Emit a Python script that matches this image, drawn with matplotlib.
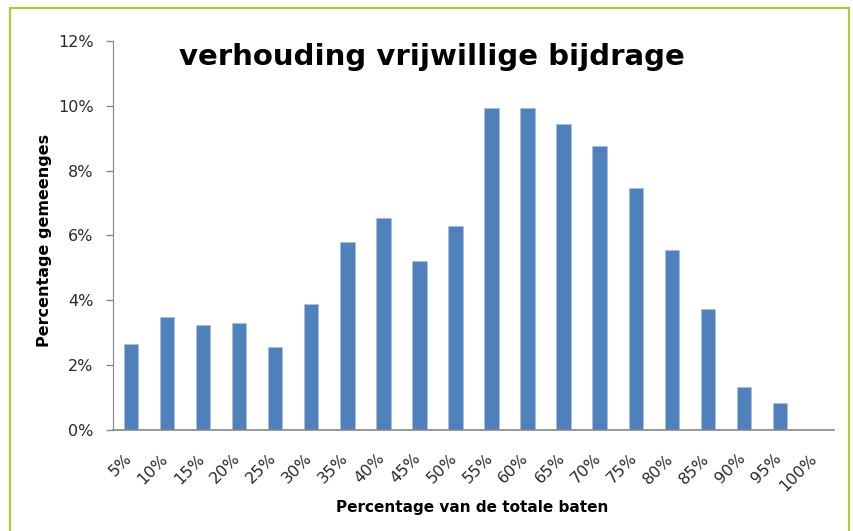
import matplotlib
matplotlib.use("Agg")
import matplotlib.pyplot as plt
import matplotlib.transforms as mtransforms
from matplotlib.patches import Rectangle
import numpy as np

categories = ["5%", "10%", "15%", "20%", "25%", "30%", "35%", "40%", "45%", "50%",
              "55%", "60%", "65%", "70%", "75%", "80%", "85%", "90%", "95%", "100%"]
aandeel = [2.65, 3.48, 3.23, 3.31, 2.57, 3.89, 5.79, 6.53, 5.22, 6.29,
           9.94, 9.94, 9.44, 8.77, 7.46, 5.55, 3.73, 1.33, 0.82, 0.0]
y_ticks = [0, 2, 4, 6, 8, 10, 12]
y_labels = ["0%", "2%", "4%", "6%", "8%", "10%", "12%"]

plt.rcParams['font.family'] = ['DejaVu Sans']

fig = plt.figure(figsize=(8.54, 5.31), dpi=100)
ax = fig.add_axes([0.1323, 0.1902, 0.8443, 0.7326])

x = np.arange(len(categories))
ax.bar(x, aandeel, width=0.4, color="#4F81BD", edgecolor="#A7C0DE", linewidth=0.6)

ax.set_xlim(-0.5, len(categories) - 0.5)
ax.set_ylim(0, 12)
ax.set_yticks(y_ticks)
ax.set_yticklabels(y_labels, fontsize=11.5, color="#2a2a2a")
ax.set_xticks(x)
ax.set_xticklabels(categories, rotation=45, ha="right", fontsize=11.5, color="#2a2a2a")
ax.tick_params(axis="x", length=0, pad=15)
ax.tick_params(axis="y", length=5, width=1, color="#868686", pad=9)

# shift the rotated labels a little to the right
offset = mtransforms.ScaledTranslation(0.04, 0.0, fig.dpi_scale_trans)
for lbl in ax.get_xticklabels():
    lbl.set_transform(lbl.get_transform() + offset)

for s in ["top", "right"]:
    ax.spines[s].set_visible(False)
ax.spines["left"].set_color("#868686")
ax.spines["bottom"].set_color("#868686")
ax.spines["bottom"].set_linewidth(1.2)

fig.text(0.506, 0.893, "verhouding vrijwillige bijdrage", fontsize=21,
         fontweight="bold", ha="center", va="center")
fig.text(0.553, 0.045, "Percentage van de totale baten", fontsize=11,
         fontweight="bold", ha="center", va="center")
fig.text(0.052, 0.548, "Percentage gemeenges", fontsize=11.5,
         fontweight="bold", ha="center", va="center", rotation=90)

fig.patches.append(Rectangle((0.0117, -0.02), 0.9824, 1.005, transform=fig.transFigure,
                             fill=False, edgecolor="#AFC93C", linewidth=1.6))

fig.savefig("out.png", dpi=100)
